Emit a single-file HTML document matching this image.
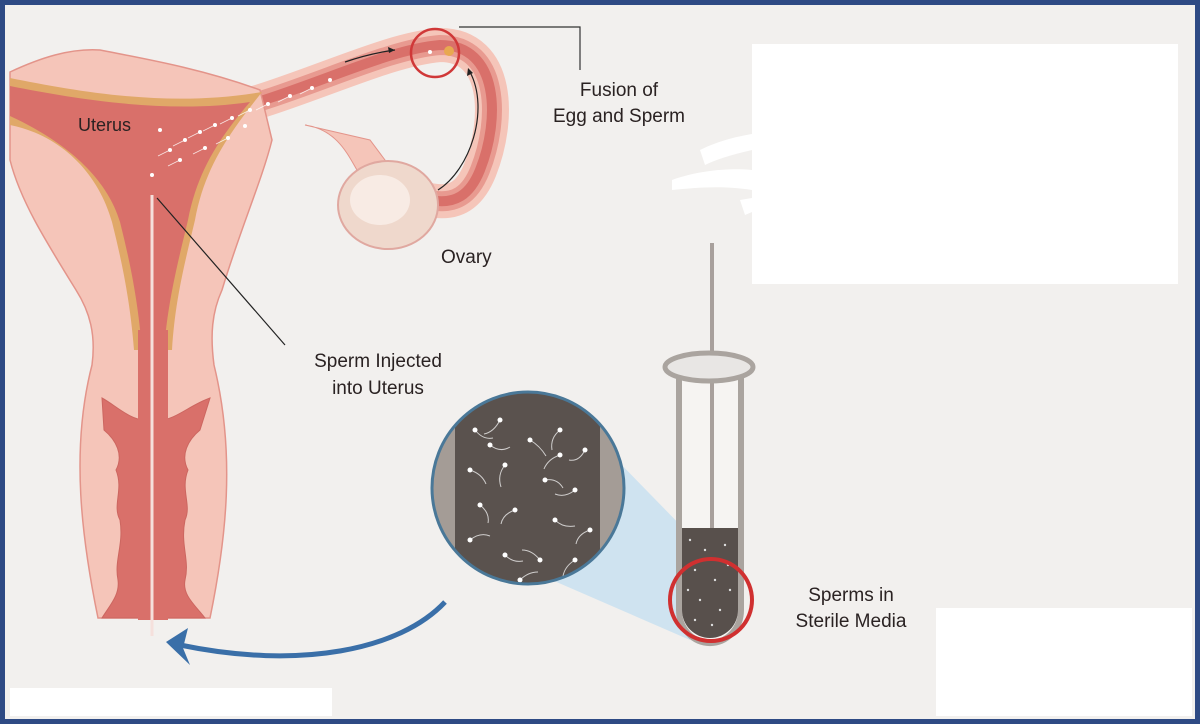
<!DOCTYPE html>
<html><head><meta charset="utf-8"><style>
html,body{margin:0;padding:0;width:1200px;height:724px;overflow:hidden;background:#f2f0ee}
svg{display:block}
text{font-family:"Liberation Sans",sans-serif;fill:#2a2222}
</style></head><body>
<svg width="1200" height="724" viewBox="0 0 1200 724">
<defs><clipPath id="zc"><circle cx="528" cy="488" r="95"/></clipPath></defs>
<rect x="0" y="0" width="1200" height="724" fill="#f2f0ee"/>
<!-- white patches -->
<rect x="752" y="44" width="426" height="240" fill="#fff"/>
<rect x="936" y="608" width="256" height="108" fill="#fff"/>
<rect x="10" y="688" width="322" height="28" fill="#fff"/>
<path d="M700,150 C720,140 740,136 752,134 L752,150 C730,155 715,160 705,165 Z" fill="#fff"/>
<path d="M672,180 C700,170 730,168 752,170 L752,190 C720,185 695,188 672,190 Z" fill="#fff"/>
<path d="M740,200 L752,198 L752,212 L745,215 Z" fill="#fff"/>
<!-- tube (fallopian) -->
<path d="M200,118 C300,95 380,50 440,45 C500,45 500,120 480,170 C470,195 455,205 430,200" fill="none" stroke="#f5c5b9" stroke-width="34" stroke-linecap="round"/>
<path d="M200,118 C300,95 380,50 440,45 C500,45 500,120 480,170 C470,195 455,205 430,200" fill="none" stroke="#e89a90" stroke-width="20" stroke-linecap="round"/>
<path d="M200,118 C300,95 380,50 440,45 C500,45 500,120 480,170 C470,195 455,205 430,200" fill="none" stroke="#d9706a" stroke-width="10" stroke-linecap="round"/>
<!-- ligament to ovary -->
<path d="M305,125 C340,130 350,160 360,175 L400,180 L370,140 Z" fill="#f5c5b9" stroke="#e3948a"/>
<!-- ovary -->
<ellipse cx="388" cy="205" rx="50" ry="44" fill="#efd8cc" stroke="#e0a8a0" stroke-width="2"/>
<ellipse cx="380" cy="200" rx="30" ry="25" fill="#f8ebe4"/>
<!-- uterus body -->
<path d="M10,72 C40,58 70,48 100,50 C140,58 200,68 260,90 L272,140 C262,180 240,230 222,290 C212,312 210,335 214,365 C236,455 226,540 210,618 L98,618 C82,540 70,450 92,365 C96,335 90,312 76,290 C45,240 20,200 10,160 Z" fill="#f5c5b9" stroke="#e3948a" stroke-width="1.5"/>
<!-- tan band + cavity -->
<path d="M10,78 C80,92 170,108 262,92 C232,130 205,165 195,220 C185,262 175,300 172,350 L134,350 C130,300 122,262 112,222 C98,172 60,135 10,125 Z" fill="#e0a868"/>
<path d="M10,86 C80,100 170,114 250,102 C222,135 198,168 188,220 C178,262 168,300 164,350 L142,350 C138,300 130,262 120,222 C106,175 62,140 10,116 Z" fill="#d9706a"/>
<!-- cervix -->
<path d="M102,398 C115,405 130,420 145,420 L160,420 C175,420 190,405 210,398 L200,430 C188,440 180,455 188,470 C180,490 192,505 185,520 C180,545 190,560 185,580 C182,595 195,605 205,618 L102,618 C110,605 120,595 118,580 C114,560 124,545 120,520 C112,505 124,490 116,470 C124,455 116,440 104,430 Z" fill="#d9706a" stroke="#cc6660" stroke-width="1"/>
<rect x="138" y="330" width="30" height="290" fill="#d9706a"/>
<!-- catheter -->
<line x1="152" y1="195" x2="152" y2="636" stroke="#f5e0dc" stroke-width="3"/>
<!-- sperm -->
<g stroke="#fff" stroke-width="0.8" fill="none" opacity="0.8">
<path d="M170,150 l-12,6"/><path d="M185,140 l-12,6"/><path d="M200,132 l-12,6"/><path d="M215,125 l-12,6"/><path d="M232,118 l-12,6"/><path d="M250,110 l-12,6"/><path d="M268,104 l-12,6"/><path d="M290,96 l-12,6"/><path d="M312,88 l-12,6"/><path d="M180,160 l-12,6"/><path d="M205,148 l-12,6"/><path d="M228,138 l-12,6"/>
</g>
<g fill="#fff">
<circle cx="170" cy="150" r="2"/><circle cx="185" cy="140" r="2"/><circle cx="200" cy="132" r="2"/><circle cx="215" cy="125" r="2"/><circle cx="232" cy="118" r="2"/><circle cx="250" cy="110" r="2"/><circle cx="268" cy="104" r="2"/><circle cx="290" cy="96" r="2"/><circle cx="312" cy="88" r="2"/><circle cx="180" cy="160" r="2"/><circle cx="205" cy="148" r="2"/><circle cx="228" cy="138" r="2"/><circle cx="160" cy="130" r="2"/><circle cx="152" cy="175" r="2"/><circle cx="245" cy="126" r="2"/><circle cx="330" cy="80" r="2"/><circle cx="430" cy="52" r="2"/>
</g>
<circle cx="449" cy="51" r="5" fill="#e8a850"/>
<!-- fusion circle and connector -->
<circle cx="435" cy="53" r="24" fill="none" stroke="#d03838" stroke-width="2.5"/>
<polyline points="459,27 580,27 580,70" fill="none" stroke="#333" stroke-width="1.2"/>
<!-- small arrows in tube -->
<path d="M345,62 C365,55 380,52 395,50" fill="none" stroke="#222" stroke-width="1.2"/>
<path d="M395,50 l-7,-3 l1,6 z" fill="#222"/>
<path d="M438,190 C470,170 490,110 470,72" fill="none" stroke="#222" stroke-width="1.2"/>
<path d="M468,68 l-1,8 l6,-3 z" fill="#222"/>
<!-- pointer -->
<line x1="157" y1="198" x2="285" y2="345" stroke="#222" stroke-width="1.2"/>
<!-- magnifier beam -->
<polygon points="570,412 690,535 690,640 545,577" fill="#cfe3f0"/>
<!-- zoom circle -->
<g clip-path="url(#zc)">
<rect x="430" y="390" width="200" height="200" fill="#5a524e"/>
<rect x="433" y="390" width="22" height="200" fill="#a49c96"/>
<rect x="600" y="390" width="24" height="200" fill="#a49c96"/>
<g stroke="#eee" stroke-width="1" fill="none" opacity="0.8">
<path d="M475,430 q8,10 18,8"/><path d="M500,420 q-6,12 -16,14"/><path d="M530,440 q10,6 16,16"/><path d="M560,430 q-10,8 -8,20"/><path d="M585,450 q-6,12 -16,10"/><path d="M470,470 q12,4 16,14"/><path d="M505,465 q-8,10 -4,22"/><path d="M545,480 q12,-2 18,8"/><path d="M575,490 q-10,8 -20,4"/><path d="M480,505 q10,8 8,18"/><path d="M515,510 q-12,4 -14,14"/><path d="M555,520 q8,8 20,6"/><path d="M590,530 q-12,4 -14,14"/><path d="M470,540 q10,-8 20,-4"/><path d="M505,555 q8,8 18,6"/><path d="M540,560 q-8,-10 -18,-10"/><path d="M575,560 q-10,6 -12,16"/><path d="M520,580 q8,-8 18,-8"/><path d="M490,445 q10,8 20,2"/><path d="M560,455 q-12,4 -16,14"/>
</g>
<g fill="#fff">
<circle cx="475" cy="430" r="2.5"/><circle cx="500" cy="420" r="2.5"/><circle cx="530" cy="440" r="2.5"/><circle cx="560" cy="430" r="2.5"/><circle cx="585" cy="450" r="2.5"/><circle cx="470" cy="470" r="2.5"/><circle cx="505" cy="465" r="2.5"/><circle cx="545" cy="480" r="2.5"/><circle cx="575" cy="490" r="2.5"/><circle cx="480" cy="505" r="2.5"/><circle cx="515" cy="510" r="2.5"/><circle cx="555" cy="520" r="2.5"/><circle cx="590" cy="530" r="2.5"/><circle cx="470" cy="540" r="2.5"/><circle cx="505" cy="555" r="2.5"/><circle cx="540" cy="560" r="2.5"/><circle cx="575" cy="560" r="2.5"/><circle cx="520" cy="580" r="2.5"/><circle cx="490" cy="445" r="2.5"/><circle cx="560" cy="455" r="2.5"/>
</g>
</g>
<circle cx="528" cy="488" r="96" fill="none" stroke="#4a7898" stroke-width="3"/>
<!-- test tube -->
<line x1="712" y1="243" x2="712" y2="530" stroke="#a8a09c" stroke-width="4"/>
<path d="M679,372 L679,610 A30,32 0 0 0 741,610 L741,372" fill="#f6f4f2" stroke="#aaa49f" stroke-width="6"/>
<path d="M682,528 L738,528 L738,610 A28,28 0 0 1 682,610 Z" fill="#58504c"/>
<g fill="#ddd"><circle cx="690" cy="540" r="1.2"/><circle cx="705" cy="550" r="1.2"/><circle cx="725" cy="545" r="1.2"/><circle cx="695" cy="570" r="1.2"/><circle cx="715" cy="580" r="1.2"/><circle cx="730" cy="590" r="1.2"/><circle cx="700" cy="600" r="1.2"/><circle cx="720" cy="610" r="1.2"/><circle cx="695" cy="620" r="1.2"/><circle cx="712" cy="625" r="1.2"/><circle cx="728" cy="565" r="1.2"/><circle cx="688" cy="590" r="1.2"/></g>
<line x1="712" y1="372" x2="712" y2="528" stroke="#a8a09c" stroke-width="4"/>
<ellipse cx="709" cy="367" rx="44" ry="14" fill="#e8e6e4" stroke="#aaa49f" stroke-width="5"/>
<circle cx="711" cy="600" r="41" fill="none" stroke="#d03030" stroke-width="4"/>
<!-- blue arrow -->
<path d="M445,602 C400,650 300,670 180,645" fill="none" stroke="#3a6fa8" stroke-width="5"/>
<path d="M166,642 L188,628 L183,648 L190,665 Z" fill="#3a6fa8"/>
<!-- labels -->
<text x="78" y="131" font-size="18">Uterus</text>
<text x="619" y="96" font-size="19" text-anchor="middle">Fusion of</text>
<text x="619" y="122" font-size="19" text-anchor="middle">Egg and Sperm</text>
<text x="441" y="263" font-size="19">Ovary</text>
<text x="378" y="367" font-size="19" text-anchor="middle">Sperm Injected</text>
<text x="378" y="394" font-size="19" text-anchor="middle">into Uterus</text>
<text x="851" y="601" font-size="19" text-anchor="middle">Sperms in</text>
<text x="851" y="627" font-size="19" text-anchor="middle">Sterile Media</text>
<!-- border -->
<rect x="2.5" y="2.5" width="1195" height="719" fill="none" stroke="#2e4a84" stroke-width="5"/>
</svg>
</body></html>
